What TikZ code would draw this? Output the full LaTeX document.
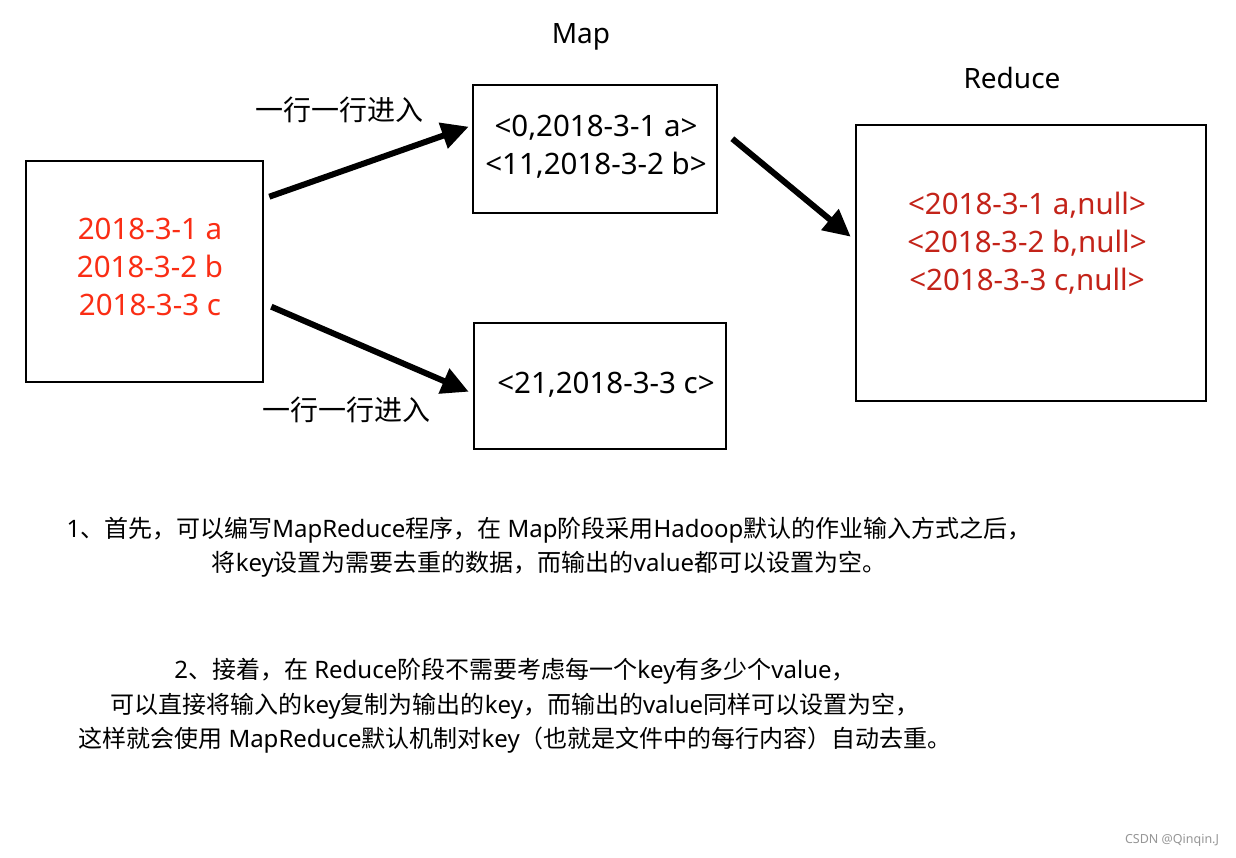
\documentclass[tikz,border=0pt]{standalone}
\usepackage{fontspec}
\setmainfont{Noto Sans}
\newfontfamily\cjk{Noto Sans CJK SC}
\usetikzlibrary{arrows.meta}
\definecolor{lred}{RGB}{250,45,20}
\definecolor{dred}{RGB}{195,35,25}
\definecolor{wmgray}{RGB}{150,150,150}
\tikzset{
  box/.style={draw=black, line width=2.6pt, inner sep=0pt},
  boxtext/.style={inner sep=0pt, align=center, font=\fontsize{29.5}{38}\selectfont},
  lbl/.style={inner sep=0pt, font=\fontsize{28}{34}\selectfont},
  para/.style={inner sep=0pt, align=center, font=\fontsize{24}{34.5}\selectfont},
  bigarrow/.style={line width=6pt, -{Triangle[length=27pt,width=26pt]}},
}
\begin{document}
\begin{tikzpicture}[x=1pt,y=-1pt]
\fill[white] (0,0) rectangle (1236,858);
\useasboundingbox (0,0) rectangle (1236,858);
% boxes
\node[box, minimum width=237pt, minimum height=221pt] (in) at (144.5,271.5) {};
\node[box, minimum width=244pt, minimum height=128pt] (m1) at (595,149) {};
\node[box, minimum width=252pt, minimum height=126pt] (m2) at (600,386) {};
\node[box, minimum width=350pt, minimum height=276pt] (r) at (1031,263) {};
% box texts
\node[boxtext, text=lred] (intext) at (150,267) {2018-3-1 a\\2018-3-2 b\\2018-3-3 c};
\node[boxtext] (m1text) at (596,147) {<0,2018-3-1 a>\\<11,2018-3-2 b>};
\node[boxtext] (m2text) at (606,385) {<21,2018-3-3 c>};
\node[boxtext, text=dred] (rtext) at (1027,243) {<2018-3-1 a,null>\\<2018-3-2 b,null>\\<2018-3-3 c,null>};
% titles
\node[lbl] (maplbl) at (581,37) {Map};
\node[lbl] (redlbl) at (1012,78) {Reduce};
\node[lbl] (l1) at (339,110) {\cjk 一行一行进入};
\node[lbl] (l2) at (346,410) {\cjk 一行一行进入};
% arrows
\draw[bigarrow] ([shift={(5,37)}]in.north east) -- ([shift={(-3,43)}]m1.north west);
\draw[bigarrow] ([shift={(7,147)}]in.north east) -- ([shift={(-4,70)}]m2.north west);
\draw[bigarrow] ([shift={(14,55)}]m1.north east) -- ([shift={(-4,113)}]r.north west);
% paragraphs
\node[para] (p1) at (549,547) {1{\cjk 、首先，可以编写}MapReduce{\cjk 程序，在} Map{\cjk 阶段采用}Hadoop{\cjk 默认的作业输入方式之后，}\\{\cjk 将}key{\cjk 设置为需要去重的数据，而输出的}value{\cjk 都可以设置为空。}};
\node[para] (p2) at (515,706) {2{\cjk 、接着，在} Reduce{\cjk 阶段不需要考虑每一个}key{\cjk 有多少个}value{\cjk ，}\\{\cjk 可以直接将输入的}key{\cjk 复制为输出的}key{\cjk ，而输出的}value{\cjk 同样可以设置为空，}\\{\cjk 这样就会使用} MapReduce{\cjk 默认机制对}key{\cjk （也就是文件中的每行内容）自动去重。}};
% watermark
\node[inner sep=0pt, text=wmgray, font=\fontsize{12.5}{14}\selectfont] (wm) at (1172,840) {CSDN @Qinqin.J};
\end{tikzpicture}
\end{document}
